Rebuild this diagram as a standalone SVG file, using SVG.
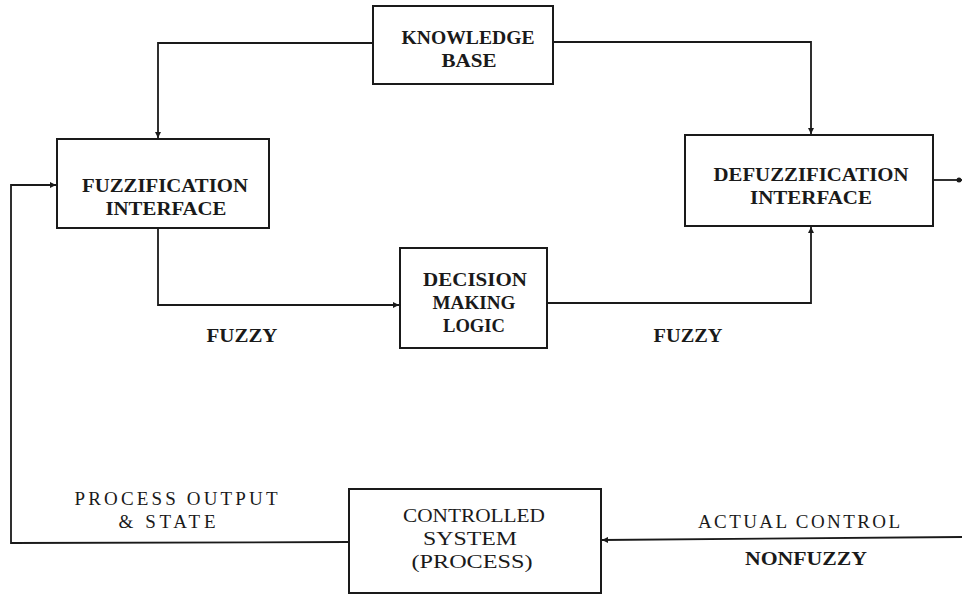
<svg xmlns="http://www.w3.org/2000/svg" width="962" height="595" viewBox="0 0 962 595">
<style>
.box{fill:#fff;stroke:#1a1a1a;stroke-width:2}
.ln{fill:none;stroke:#1a1a1a;stroke-width:1.8}
.t{font-family:"Liberation Serif","DejaVu Serif",serif;font-weight:bold;font-size:19px;fill:#1a1a1a;text-anchor:middle}
.l{font-family:"Liberation Serif","DejaVu Serif",serif;font-size:19px;fill:#1a1a1a;text-anchor:middle}
</style>
<defs>
<marker id="arr" viewBox="0 0 10 10" refX="10" refY="5" markerWidth="10" markerHeight="6" markerUnits="userSpaceOnUse" orient="auto">
<path d="M0,0 L10,5 L0,10 z" fill="#1a1a1a"/>
</marker>
</defs>
<rect width="962" height="595" fill="#fff"/>
<g id="connectors">
<polyline class="ln" points="373,43 158,43 158,138" marker-end="url(#arr)"/>
<polyline class="ln" points="553,42 811,42 811,134" marker-end="url(#arr)"/>
<polyline class="ln" points="158,228 158,305 399,305" marker-end="url(#arr)"/>
<polyline class="ln" points="547,303 811,303 811,227" marker-end="url(#arr)"/>
<line class="ln" x1="933" y1="180" x2="962" y2="180"/>
<circle cx="959" cy="180" r="2.5" fill="#1a1a1a"/>
<line class="ln" x1="962" y1="537" x2="602" y2="540" marker-end="url(#arr)"/>
<polyline class="ln" points="349,542 11,543 11,185 56,185" marker-end="url(#arr)"/>
</g>
<g id="knowledge-base">
<rect class="box" x="373" y="6" width="180" height="78"/>
<text class="t" x="468" y="44" textLength="133" lengthAdjust="spacingAndGlyphs">KNOWLEDGE</text>
<text class="t" x="469" y="67" textLength="55" lengthAdjust="spacingAndGlyphs">BASE</text>
</g>
<g id="fuzzification">
<rect class="box" x="57" y="139" width="212" height="89"/>
<text class="t" x="165" y="192" textLength="166" lengthAdjust="spacingAndGlyphs">FUZZIFICATION</text>
<text class="t" x="166" y="215" textLength="121" lengthAdjust="spacingAndGlyphs">INTERFACE</text>
</g>
<g id="defuzzification">
<rect class="box" x="685" y="135" width="248" height="91"/>
<text class="t" x="811" y="181" textLength="195" lengthAdjust="spacingAndGlyphs">DEFUZZIFICATION</text>
<text class="t" x="811" y="204" textLength="122" lengthAdjust="spacingAndGlyphs">INTERFACE</text>
</g>
<g id="decision">
<rect class="box" x="400" y="248" width="147" height="100"/>
<text class="t" x="475" y="286" textLength="104" lengthAdjust="spacingAndGlyphs">DECISION</text>
<text class="t" x="474" y="309" textLength="83" lengthAdjust="spacingAndGlyphs">MAKING</text>
<text class="t" x="474" y="332" textLength="62" lengthAdjust="spacingAndGlyphs">LOGIC</text>
</g>
<g id="controlled-system">
<rect class="box" x="349" y="489" width="252" height="104"/>
<text class="l" x="474" y="522" textLength="142" lengthAdjust="spacingAndGlyphs">CONTROLLED</text>
<text class="l" x="470" y="545" textLength="94" lengthAdjust="spacingAndGlyphs">SYSTEM</text>
<text class="l" x="472" y="568" textLength="121" lengthAdjust="spacingAndGlyphs">(PROCESS)</text>
</g>
<g id="labels">
<text class="t" x="242" y="342" textLength="71" lengthAdjust="spacingAndGlyphs">FUZZY</text>
<text class="t" x="688" y="342" textLength="69" lengthAdjust="spacingAndGlyphs">FUZZY</text>
<text class="l" x="176" y="505" textLength="203" lengthAdjust="spacing">PROCESS  OUTPUT</text>
<text class="l" x="167" y="528" textLength="97" lengthAdjust="spacing">&amp; STATE</text>
<text class="l" x="799" y="528" textLength="202" lengthAdjust="spacing">ACTUAL  CONTROL</text>
<text class="t" x="806" y="565" textLength="122" lengthAdjust="spacingAndGlyphs">NONFUZZY</text>
</g>
</svg>
